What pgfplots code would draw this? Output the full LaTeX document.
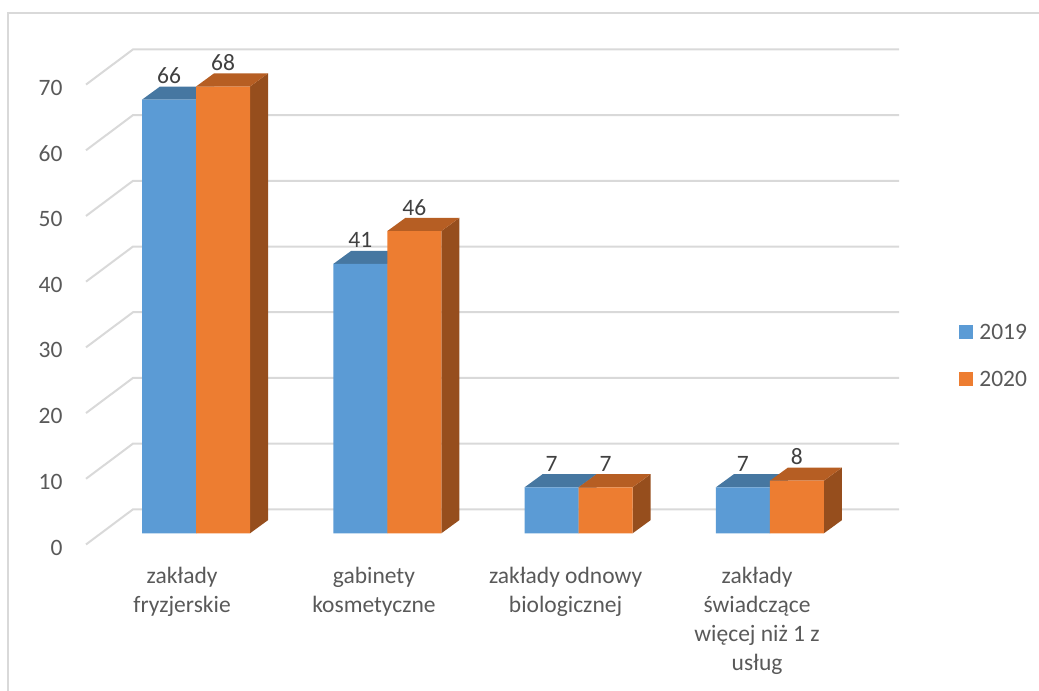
\documentclass[border=0pt]{standalone}
\usepackage{pgfplots}
\usepackage{pgfplotstable}
\usepackage{fontspec}
\setmainfont{Carlito}
\pgfplotsset{compat=1.18}

\definecolor{bfront}{HTML}{5B9BD5}
\definecolor{btop}{HTML}{4677A1}
\definecolor{bside}{HTML}{3F6A91}
\definecolor{ofront}{HTML}{ED7D31}
\definecolor{otop}{HTML}{B65E23}
\definecolor{oside}{HTML}{964E1D}
\definecolor{gridc}{HTML}{D9D9D9}
\definecolor{txt}{HTML}{595959}
\definecolor{valtxt}{HTML}{404040}

\newcommand\fsz{\fontsize{9.4}{11.6}\selectfont}

\pgfplotstableread{
x  y2019 y2020
0  66    68
1  41    46
2  7     7
3  7     8
}\counts

% bar geometry, axis units
\def\bw{0.2823}  % bar width
\def\dx{0.0941}  % depth, to the right
\def\dy{2.0}     % depth, upwards

% top and right faces of one bar
\newcommand\topside[4]{%
  \pgfmathsetmacro\xa{#1}%
  \pgfmathsetmacro\xb{#1+\bw}%
  \pgfmathsetmacro\xc{#1+\bw+\dx}%
  \pgfmathsetmacro\xd{#1+\dx}%
  \pgfmathsetmacro\yb{#2+\dy}%
  \edef\tmp{%
    \noexpand\addplot[fill=#4, draw=none, forget plot] coordinates {(\xb,0) (\xb,#2) (\xc,\yb) (\xc,\dy)};
    \noexpand\addplot[fill=#3, draw=none, forget plot] coordinates {(\xa,#2) (\xb,#2) (\xc,\yb) (\xd,\yb)};
  }\tmp}

% one gridline: left wall, then back wall
\newcommand\gridline[1]{%
  \pgfmathsetmacro\ga{#1-1.7}%
  \pgfmathsetmacro\gb{#1+3.65}%
  \edef\tmp{\noexpand\addplot[gridc, line width=0.8pt, forget plot] coordinates {(-0.575,\ga) (-0.3293,\gb) (3.675,\gb)};}\tmp}

\begin{document}
\begin{tikzpicture}
\begin{axis}[
  x=76.52pt, y=2.628pt,
  xmin=-0.575, xmax=3.7, ymin=-1.7, ymax=76,
  enlargelimits=false, clip=false,
  axis line style={draw=none}, major tick length=0pt, tick style={draw=none},
  /pgf/number format/assume math mode=true,
  ytick={-1.7,8.3,18.3,28.3,38.3,48.3,58.3,68.3},
  yticklabels={0,10,20,30,40,50,60,70},
  yticklabel style={anchor=east, inner sep=0pt, xshift=-9.2pt, yshift=-1.2pt, text=txt, font=\fsz},
  xtick={-0.073,0.93,1.932,2.933},
  xticklabels={{zakłady\\fryzjerskie},{gabinety\\kosmetyczne},{zakłady odnowy\\biologicznej},{zakłady\\świadczące\\więcej niż 1 z\\usług}},
  xticklabel style={align=center, anchor=north, inner sep=0pt, yshift=-8.8pt, text=txt, font=\fsz},
  every node near coord/.append style={anchor=base, inner sep=0pt, yshift=6.4pt, text=valtxt, font=\fsz},
  legend style={at={(axis cs:3.988,31.9)}, anchor=north west, draw=none, fill=none,
    inner sep=0pt, row sep=12.8pt, font=\fsz, text=txt,
    nodes={inner sep=0pt, text height=6pt, text depth=0pt, anchor=base west}},
  legend image code/.code={\fill[#1] (0pt,0pt) rectangle (5.6pt,5.6pt); \path (8pt,0pt);},
]
\pgfplotsinvokeforeach{0,10,...,70}{\gridline{#1}}

% 2019
\topside{-0.2823}{66}{btop}{bside}
\topside{0.7177}{41}{btop}{bside}
\topside{1.7177}{7}{btop}{bside}
\topside{2.7177}{7}{btop}{bside}
\addplot[ybar, bar width=0.2823, bar shift=-0.14115, fill=bfront, draw=none,
  nodes near coords, nodes near coords style={xshift=-10.8pt}]
  table[x=x, y=y2019] {\counts};
\addlegendentry{2019}

% 2020
\topside{0}{68}{otop}{oside}
\topside{1}{46}{otop}{oside}
\topside{2}{7}{otop}{oside}
\topside{3}{8}{otop}{oside}
\addplot[ybar, bar width=0.2823, bar shift=0.14115, fill=ofront, draw=none,
  nodes near coords, nodes near coords style={xshift=10.8pt}]
  table[x=x, y=y2020] {\counts};
\addlegendentry{2020}

\draw[gridc, line width=0.8pt] (axis cs:-0.9828,-24.0) -- (axis cs:-0.9828,79.19) -- (axis cs:4.4067,79.19);
\coordinate (bl) at (axis cs:-1.0246,-24.0);
\coordinate (tr) at (axis cs:4.4067,81.17);
\end{axis}
\pgfresetboundingbox
\useasboundingbox (bl) rectangle (tr);
\end{tikzpicture}
\end{document}
